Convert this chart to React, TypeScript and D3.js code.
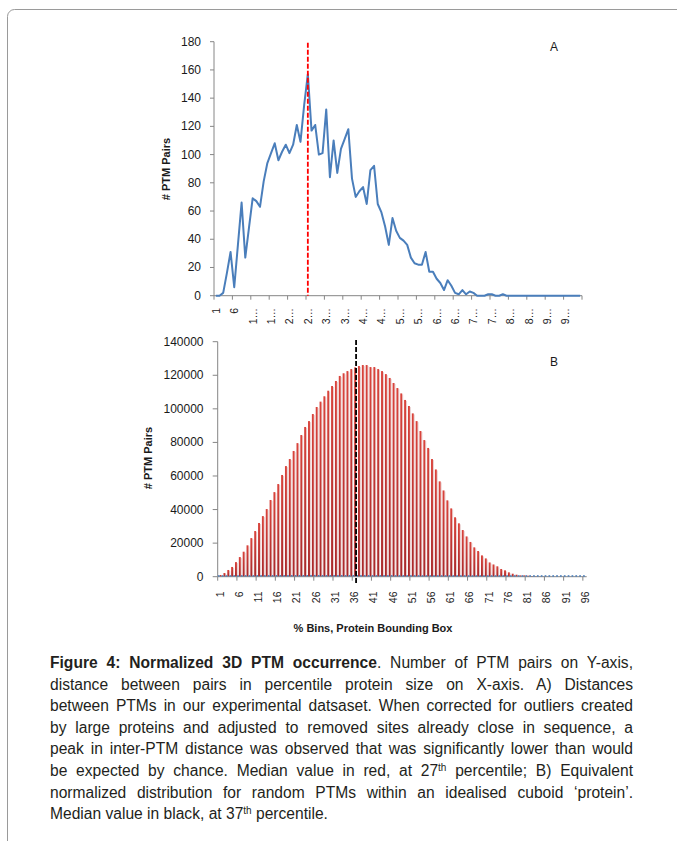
import React, { useLayoutEffect, useRef } from "react";
import * as d3 from "d3";

// Panel A: observed PTM pairs per % bin (1..100)
const binsA = d3.range(1, 101);
const pairsA = [
  0, 0, 2, 16, 31, 6, 36, 66, 27, 48,
  69, 67, 63, 81, 94, 101, 108, 96, 102, 107,
  101, 107, 121, 109, 135, 157, 117, 121, 100, 101,
  132, 84, 110, 87, 104, 111, 118, 83, 70, 74,
  77, 65, 89, 92, 65, 59, 49, 36, 55, 46,
  41, 39, 36, 27, 23, 22, 22, 31, 17, 17,
  12, 9, 4, 11, 7, 2, 1, 4, 1, 3,
  2, 0, 0, 0, 1, 1, 0, 0, 1, 0,
  0, 0, 0, 0, 0, 0, 0, 0, 0, 0,
  0, 0, 0, 0, 0, 0, 0, 0, 0, 0
];
const tickLabelsA = [
  "1", "6", "1…", "1…", "2…", "2…", "3…", "3…", "4…", "4…",
  "5…", "5…", "6…", "6…", "7…", "7…", "8…", "8…", "9…", "9…"
];
const medianBinA = 26;

// Panel B: random PTM pairs per % bin (1..96)
const binsB = d3.range(1, 97);
const pairsB = [
  1000, 2200, 4000, 5800, 8700, 11700, 14900, 18700, 23000, 27200,
  32000, 36100, 40300, 45700, 50400, 55200, 60600, 65900, 70100, 74900,
  79600, 84400, 89200, 92700, 96900, 101100, 104300, 107500, 110800, 113600,
  116600, 119600, 121200, 122500, 123700, 124700, 125500, 126100, 126100, 124900,
  124900, 123700, 122500, 120700, 118400, 115400, 112400, 109200, 105300, 101700,
  97300, 92700, 86800, 81400, 76700, 70100, 63900, 56800, 51400, 45500,
  40700, 35400, 31800, 27800, 24000, 20700, 17500, 15300, 12700, 10900,
  8500, 7300, 6200, 4600, 3800, 2600, 1800, 1200, 800, 800,
  600, 400, 300, 200, 150, 100, 50, 30, 20, 10,
  10, 0, 0, 0, 0, 0
];
const tickLabelsB = [
  "1", "6", "11", "16", "21", "26", "31", "36", "41", "46",
  "51", "56", "61", "66", "71", "76", "81", "86", "91", "96"
];
const medianBinB = 37; // line sits at the start of this bin

type Part = { t: string; b?: boolean; sup?: boolean };
const caption: Part[][] = [
  [{ t: "Figure 4: Normalized 3D PTM occurrence", b: true }, { t: ". Number of PTM pairs on Y-axis," }],
  [{ t: "distance between pairs in percentile protein size on X-axis. A) Distances" }],
  [{ t: "between PTMs in our experimental datsaset. When corrected for outliers created" }],
  [{ t: "by large proteins and adjusted to removed sites already close in sequence, a" }],
  [{ t: "peak in inter-PTM distance was observed that was significantly lower than would" }],
  [{ t: "be expected by chance. Median value in red, at 27" }, { t: "th", sup: true }, { t: " percentile; B) Equivalent" }],
  [{ t: "normalized distribution for random PTMs within an idealised cuboid \u2018protein\u2019." }],
  [{ t: "Median value in black, at 37" }, { t: "th", sup: true }, { t: " percentile." }]
];

const FONT = "'Liberation Sans', Arial, sans-serif";
const AXIS = "#868686";
const TEXT = "#1a1a1a";

function CaptionLine({ parts, y, justify }: { parts: Part[]; y: number; justify: boolean }) {
  const ref = useRef<SVGTextElement>(null);
  const left = 50;
  const right = 633;
  useLayoutEffect(() => {
    const el = ref.current;
    if (!el || !justify) return;
    el.setAttribute("word-spacing", "0");
    const w = el.getComputedTextLength();
    const spaces = (el.textContent || "").split(" ").length - 1;
    if (spaces > 0) el.setAttribute("word-spacing", String((right - left - w) / spaces));
  }, [justify]);
  return (
    <text ref={ref} x={left} y={y} fontFamily={FONT} fontSize={15.6} fill="#231f20">
      {parts.map((p, i) =>
        p.sup ? (
          <tspan key={i} fontSize={10} dy={-5.5}>{p.t}</tspan>
        ) : (
          <tspan key={i} fontWeight={p.b ? "bold" : "normal"} dy={i > 0 && parts[i - 1].sup ? 5.5 : 0}>
            {p.t}
          </tspan>
        )
      )}
    </text>
  );
}

export default function App() {
  // ----- panel A scales
  const xA = d3.scaleBand<number>().domain(binsA).range([214, 582]);
  const bwA = xA.bandwidth();
  const yA = d3.scaleLinear().domain([0, 180]).range([295.7, 41.7]);
  const lineA = d3
    .line<number>()
    .x((d, i) => (xA(binsA[i]) as number) + bwA / 2)
    .y(d => yA(d));

  // ----- panel B scales
  const xB = d3.scaleBand<number>().domain(binsB).range([217.7, 586.7]);
  const bwB = xB.bandwidth();
  const yB = d3.scaleLinear().domain([0, 140000]).range([576.7, 341.7]);

  const ticksA = yA.ticks(9);
  const ticksB = yB.ticks(7);
  const boundA = d3.range(0, 21).map(k => 214 + k * 5 * bwA);
  const boundB = d3.range(0, 20).map(k => 217.7 + k * 5 * bwB);

  return (
    <div style={{ position: "absolute", left: 0, top: 0 }}>
      <svg width={677} height={841} style={{ display: "block", background: "#fff" }}>
        <defs>
          <linearGradient id="barGrad" x1="0" y1="0" x2="0" y2="1">
            <stop offset="0" stopColor="#d9443c" />
            <stop offset="1" stopColor="#a8282a" />
          </linearGradient>
        </defs>
        <rect x={7.5} y={9.5} width={700} height={860} rx={7} fill="none" stroke="#9a9a9a" />

        {/* ---------- Panel A ---------- */}
        <g fontFamily={FONT} fill={TEXT}>
          {ticksA.map(t => (
            <g key={t}>
              <line x1={210} x2={214} y1={yA(t)} y2={yA(t)} stroke={AXIS} />
              <text x={201} y={yA(t)} fontSize={12} textAnchor="end" dominantBaseline="central">{t}</text>
            </g>
          ))}
          <line x1={214} x2={214} y1={yA(180)} y2={yA(0)} stroke={AXIS} />
          <line x1={214} x2={582} y1={yA(0)} y2={yA(0)} stroke={AXIS} />
          {boundA.map((x, k) => (
            <line key={k} x1={x} x2={x} y1={yA(0)} y2={yA(0) + 4} stroke={AXIS} />
          ))}
          {tickLabelsA.map((lab, k) => {
            const x = (xA(binsA[k * 5]) as number) + bwA / 2;
            return (
              <text key={k} transform={`translate(${x},308) rotate(-90)`} fontSize={10.5} textAnchor="end" dominantBaseline="central">
                {lab}
              </text>
            );
          })}
          <text transform="translate(166,169) rotate(-90)" fontSize={11} fontWeight="bold" textAnchor="middle" dominantBaseline="central">
            # PTM Pairs
          </text>
          <text x={554} y={51} fontSize={12} textAnchor="middle">A</text>
          <path d={lineA(pairsA) || ""} fill="none" stroke="#4a7ebb" strokeWidth={2} strokeLinejoin="round" />
          <line
            x1={(xA(medianBinA) as number) + bwA / 2}
            x2={(xA(medianBinA) as number) + bwA / 2}
            y1={42.7}
            y2={yA(0)}
            stroke="#ff0000"
            strokeWidth={1.8}
            strokeDasharray="5,2"
          />
        </g>

        {/* ---------- Panel B ---------- */}
        <g fontFamily={FONT} fill={TEXT}>
          {ticksB.map(t => (
            <g key={t}>
              <line x1={212.7} x2={217.7} y1={yB(t)} y2={yB(t)} stroke={AXIS} />
              <text x={203.5} y={yB(t)} fontSize={12} textAnchor="end" dominantBaseline="central">{t}</text>
            </g>
          ))}
          <line x1={217.7} x2={217.7} y1={yB(140000)} y2={yB(0)} stroke={AXIS} />
          {pairsB.map((v, i) => {
            const x = (xB(binsB[i]) as number) + bwB * 0.5;
            const h = yB(0) - yB(v);
            return (
              <g key={i}>
                <rect x={x + bwB * 0.5} y={yB(v) + 1} width={1} height={Math.max(0, h - 1)} fill="#ead2d2" />
                <rect x={x} y={yB(v)} width={bwB * 0.5} height={h} fill="url(#barGrad)" />
              </g>
            );
          })}
          <line x1={217.7} x2={586.7} y1={yB(0)} y2={yB(0)} stroke={AXIS} />
          {pairsA.slice(0, binsB.length).map((v, i) => (
            <rect
              key={i}
              x={(xB(binsB[i]) as number) + 0.2}
              y={yB(v) - 1.5}
              width={bwB * 0.45}
              height={1.5}
              fill="#4a7ebb"
            />
          ))}
          {boundB.map((x, k) => (
            <line key={k} x1={x} x2={x} y1={yB(0)} y2={yB(0) + 4} stroke={AXIS} />
          ))}
          {tickLabelsB.map((lab, k) => {
            const x = (xB(binsB[k * 5]) as number) + bwB / 2;
            return (
              <text key={k} transform={`translate(${x},591.5) rotate(-90)`} fontSize={10.5} textAnchor="end" dominantBaseline="central">
                {lab}
              </text>
            );
          })}
          <text transform="translate(148,458) rotate(-90)" fontSize={11} fontWeight="bold" textAnchor="middle" dominantBaseline="central">
            # PTM Pairs
          </text>
          <text x={373} y={632} fontSize={11} fontWeight="bold" textAnchor="middle">
            % Bins, Protein Bounding Box
          </text>
          <text x={554} y={366} fontSize={12} textAnchor="middle">B</text>
          <line
            x1={xB(medianBinB) as number}
            x2={xB(medianBinB) as number}
            y1={340}
            y2={583}
            stroke="#000"
            strokeWidth={1.8}
            strokeDasharray="5,2"
          />
        </g>

        {/* ---------- Caption ---------- */}
        {caption.map((parts, i) => (
          <CaptionLine key={i} parts={parts} y={668 + i * 21.6} justify={i < caption.length - 1} />
        ))}
      </svg>
    </div>
  );
}
